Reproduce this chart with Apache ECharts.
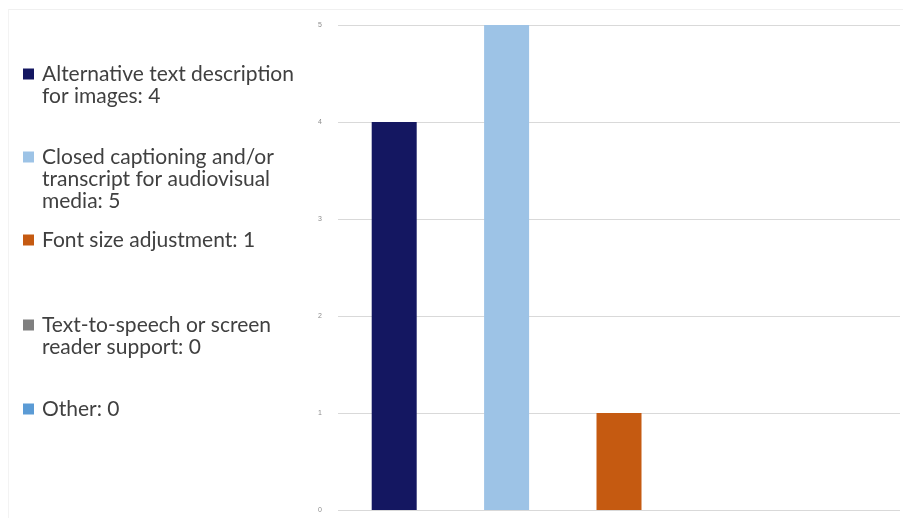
<!DOCTYPE html>
<html>
<head>
<meta charset="utf-8">
<script src="https://cdn.jsdelivr.net/npm/echarts@6/dist/echarts.min.js"></script>
<style>
  html, body { margin: 0; padding: 0; background: #fff; }
  #wrap { position: relative; width: 903px; height: 518px; }
  #chart { width: 903px; height: 518px; }
  /* faint frame of the original chart area */
  #frame {
    position: absolute; left: 8px; top: 9px; right: 0; bottom: 0;
    border-top: 1px solid #f0f0f0; border-left: 1px solid #f3f3f3;
    pointer-events: none;
  }
</style>
</head>
<body>
<div id="wrap">
  <div id="chart"></div>
  <div id="frame"></div>
</div>
<script>
  // data
  const categories = [
    'Alternative text description\nfor images',
    'Closed captioning and/or\ntranscript for audiovisual\nmedia',
    'Font size adjustment',
    'Text-to-speech or screen\nreader support',
    'Other'
  ];
  const counts = [4, 5, 1, 0, 0];
  const colors = ['#141761', '#9dc3e6', '#c55a11', '#7f7f7f', '#5b9bd5'];
  const yTicks = [0, 1, 2, 3, 4, 5];

  // icon centre y of each legend entry
  const legendY = [74, 157, 240, 325, 409];

  const chart = echarts.init(document.getElementById('chart'));

  const series = categories.map((name, i) => ({
    name: name,
    type: 'bar',
    barWidth: 45,
    barGap: '-100%',
    itemStyle: { color: colors[i] },
    data: counts.map((v, j) => (j === i ? v : '-'))
  }));

  // blank lines in front keep the first text line level with the icon
  const legends = categories.map((name, i) => {
    const lines = name.split('\n').length;
    return {
      data: [name],
      left: 23,
      top: legendY[i] - (2 * lines - 1) * 11,
      padding: 0,
      icon: 'rect',
      itemWidth: 11,
      itemHeight: 11,
      itemGap: 0,
      selectedMode: false,
      formatter: n => '\n'.repeat(lines - 1) + n + ': ' + counts[i],
      textStyle: {
        fontFamily: 'Lato',
        fontSize: 21,
        color: '#404040',
        lineHeight: 22,
        padding: [0, 0, 0, 3]
      }
    };
  });

  chart.setOption({
    animation: false,
    legend: legends,
    grid: { left: 338, right: 3, top: 25, bottom: 8 },
    xAxis: {
      type: 'category',
      data: categories,
      axisLine: { show: false },
      axisTick: { show: false },
      axisLabel: { show: false }
    },
    yAxis: {
      type: 'value',
      min: yTicks[0],
      max: yTicks[yTicks.length - 1],
      interval: 1,
      axisLabel: { fontSize: 7, color: '#8c8c8c', margin: 16 },
      splitLine: { lineStyle: { color: '#d9d9d9', width: 1 } }
    },
    series: series
  });
</script>
</body>
</html>
